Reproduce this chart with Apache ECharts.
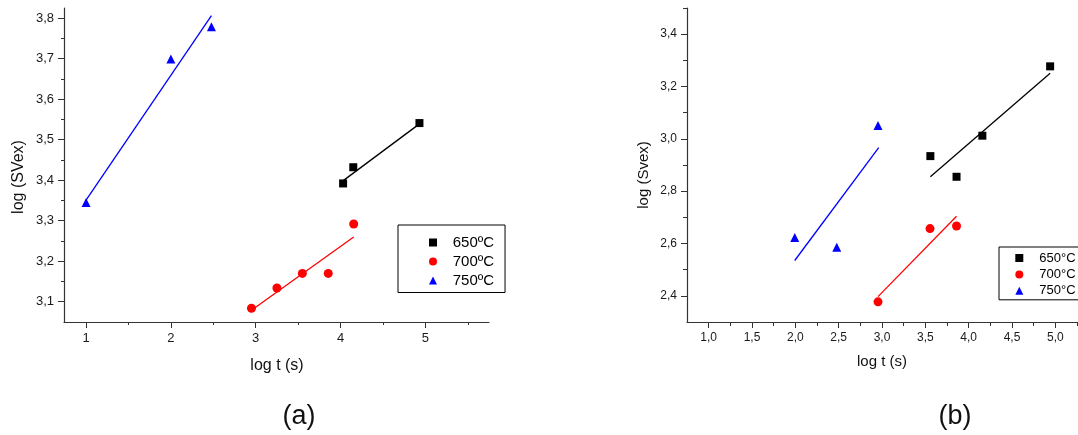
<!DOCTYPE html>
<html>
<head>
<meta charset="utf-8">
<script src="https://cdn.jsdelivr.net/npm/echarts@6/dist/echarts.min.js"></script>
<style>
  html, body { margin: 0; padding: 0; background: #fff; }
  #chart { width: 1078px; height: 435px; }
</style>
</head>
<body>
<div id="chart"></div>
<script>
// ---- panel (a) ----
var aNames = ['650ºC', '700ºC', '750ºC'];
var a650 = [[4.03, 3.392], [4.15, 3.432], [4.93, 3.541]];
var a700 = [[2.95, 3.084], [3.25, 3.134], [3.55, 3.170], [3.855, 3.170], [4.155, 3.292]];
var a750 = [[1.0, 3.345], [2.0, 3.699], [2.478, 3.779]];
var a650Fit = [[4.0, 3.394], [4.93, 3.539]];
var a700Fit = [[2.95, 3.079], [4.155, 3.260]];
var a750Fit = [[1.0, 3.351], [2.478, 3.806]];
var aXTicks = [1, 2, 3, 4, 5];
var aXMinor = [1.5, 2.5, 3.5, 4.5, 5.5];
var aYTicks = [3.1, 3.2, 3.3, 3.4, 3.5, 3.6, 3.7, 3.8];
var aYMinor = [3.15, 3.25, 3.35, 3.45, 3.55, 3.65, 3.75];

// ---- panel (b) ----
var bNames = ['650°C', '700°C', '750°C'];
var b650 = [[3.558, 2.934], [3.86, 2.855], [4.158, 3.012], [4.94, 3.277]];
var b700 = [[2.954, 2.377], [3.554, 2.657], [3.86, 2.667]];
var b750 = [[1.993, 2.623], [2.478, 2.586], [2.954, 3.051]];
var b650Fit = [[3.558, 2.855], [4.94, 3.251]];
var b700Fit = [[2.954, 2.397], [3.86, 2.704]];
var b750Fit = [[1.993, 2.535], [2.962, 2.966]];
var bXTicks = [1.0, 1.5, 2.0, 2.5, 3.0, 3.5, 4.0, 4.5, 5.0];
var bXMinor = [1.25, 1.75, 2.25, 2.75, 3.25, 3.75, 4.25, 4.75, 5.25];
var bYTicks = [2.4, 2.6, 2.8, 3.0, 3.2, 3.4];
var bYMinor = [2.5, 2.7, 2.9, 3.1, 3.3, 3.5];

var FONT = 'Liberation Sans, Arial, sans-serif';
var colors = ['#000000', '#ff0000', '#0000ff'];
var symbols = ['rect', 'circle', 'triangle'];
var sizes = [8, 9, 9];
var axisColor = '#333';

function comma(v) { return v.toFixed(1).replace('.', ','); }

function majorAxis(grid, min, max, ticks, fmt, fontSize, isX) {
  return {
    type: 'value', gridIndex: grid, min: min, max: max,
    position: isX ? 'bottom' : 'left',
    axisLine: { show: true, onZero: false, lineStyle: { color: axisColor, width: 1.2 } },
    axisTick: { show: true, length: 6, customValues: ticks, lineStyle: { color: axisColor, width: 1 } },
    axisLabel: { customValues: ticks, margin: 10, fontSize: fontSize, color: '#1a1a1a', fontFamily: FONT, formatter: fmt },
    splitLine: { show: false }
  };
}

function minorAxis(grid, min, max, ticks, len, isX) {
  return {
    type: 'value', gridIndex: grid, min: min, max: max,
    position: isX ? 'bottom' : 'left',
    axisLine: { show: false, onZero: false },
    axisTick: { show: true, length: len, customValues: ticks, lineStyle: { color: axisColor, width: 1 } },
    axisLabel: { show: false },
    splitLine: { show: false }
  };
}

function scatter(name, data, i, xi, yi) {
  return {
    name: name, type: 'scatter', xAxisIndex: xi, yAxisIndex: yi, data: data,
    symbol: symbols[i], symbolSize: sizes[i], itemStyle: { color: colors[i], opacity: 1 }, z: 3
  };
}

function fit(data, i, xi, yi) {
  return {
    type: 'line', xAxisIndex: xi, yAxisIndex: yi, data: data, symbol: 'none', silent: true,
    lineStyle: { color: colors[i], width: 1.3 }, z: 2
  };
}

var chart = echarts.init(document.getElementById('chart'));
chart.setOption({
  animation: false,
  backgroundColor: '#fff',
  grid: [
    { left: 64, top: 8, width: 425, height: 314 },
    { left: 687, top: 8, width: 390, height: 314 }
  ],
  xAxis: [
    majorAxis(0, 0.74, 5.75, aXTicks, function (v) { return String(v); }, 13, true),
    minorAxis(0, 0.74, 5.75, aXMinor, 3, true),
    majorAxis(1, 0.75, 5.25, bXTicks, comma, 12, true),
    minorAxis(1, 0.75, 5.25, bXMinor, 4, true)
  ],
  yAxis: [
    majorAxis(0, 3.05, 3.825, aYTicks, comma, 13, false),
    minorAxis(0, 3.05, 3.825, aYMinor, 3, false),
    majorAxis(1, 2.3, 3.5, bYTicks, comma, 12, false),
    minorAxis(1, 2.3, 3.5, bYMinor, 4, false)
  ],
  legend: [
    {
      data: aNames, orient: 'vertical', left: 398, top: 225,
      itemWidth: 8, itemHeight: 8, itemGap: 4, padding: [10, 11, 4.5, 31],
      borderColor: '#000', borderWidth: 1, itemStyle: { opacity: 1 },
      textStyle: { fontSize: 15, lineHeight: 15, color: '#000', fontFamily: FONT, padding: [0, 0, 0, 10.7] }
    },
    {
      data: bNames, orient: 'vertical', left: 999, top: 247,
      itemWidth: 8, itemHeight: 8, itemGap: 3.4, padding: [4.5, 30, 2.5, 16.3],
      borderColor: '#000', borderWidth: 1, itemStyle: { opacity: 1 },
      textStyle: { fontSize: 13, lineHeight: 13, color: '#000', fontFamily: FONT, padding: [0, 0, 0, 11] }
    }
  ],
  series: [
    fit(a650Fit, 0, 0, 0), fit(a700Fit, 1, 0, 0), fit(a750Fit, 2, 0, 0),
    scatter(aNames[0], a650, 0, 0, 0), scatter(aNames[1], a700, 1, 0, 0), scatter(aNames[2], a750, 2, 0, 0),
    fit(b650Fit, 0, 2, 2), fit(b700Fit, 1, 2, 2), fit(b750Fit, 2, 2, 2),
    scatter(bNames[0], b650, 0, 2, 2), scatter(bNames[1], b700, 1, 2, 2), scatter(bNames[2], b750, 2, 2, 2)
  ],
  graphic: [
    { type: 'text', x: 19, y: 177, rotation: Math.PI / 2, style: { text: 'log (SVex)', font: '16px ' + FONT, fill: '#111', align: 'center', verticalAlign: 'middle' } },
    { type: 'text', x: 277, y: 366, style: { text: 'log t (s)', font: '16px ' + FONT, fill: '#111', align: 'center', verticalAlign: 'middle' } },
    { type: 'text', x: 299, y: 417, style: { text: '(a)', font: '27px ' + FONT, fill: '#111', align: 'center', verticalAlign: 'middle' } },
    { type: 'text', x: 644, y: 175, rotation: Math.PI / 2, style: { text: 'log (Svex)', font: '15px ' + FONT, fill: '#111', align: 'center', verticalAlign: 'middle' } },
    { type: 'text', x: 882, y: 362, style: { text: 'log t (s)', font: '15px ' + FONT, fill: '#111', align: 'center', verticalAlign: 'middle' } },
    { type: 'text', x: 955, y: 417, style: { text: '(b)', font: '27px ' + FONT, fill: '#111', align: 'center', verticalAlign: 'middle' } }
  ]
});
</script>
</body>
</html>
